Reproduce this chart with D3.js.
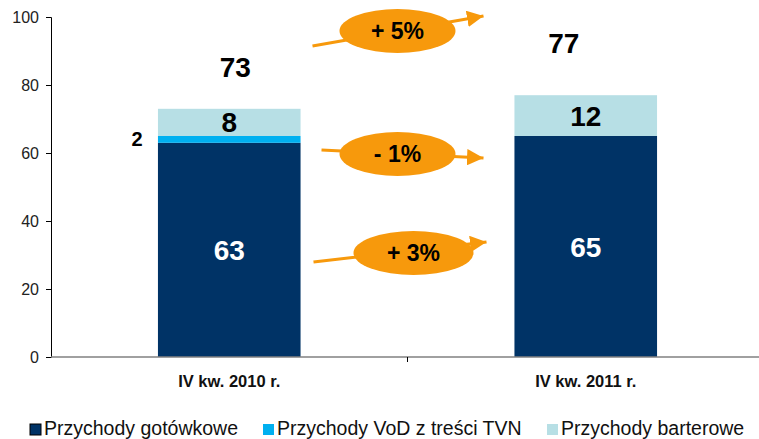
<!DOCTYPE html>
<html>
<head>
<meta charset="utf-8">
<script src="https://cdnjs.cloudflare.com/ajax/libs/d3/7.8.5/d3.min.js"></script>
<style>
  body { margin: 0; background: #fff; }
  svg { font-family: Arial, "Liberation Sans", sans-serif; }
</style>
</head>
<body>
<div id="root"></div>
<script>
// data
var categories = ['IV kw. 2010 r.', 'IV kw. 2011 r.'];
var seriesNames = ['Przychody gotówkowe', 'Przychody VoD z treści TVN', 'Przychody barterowe'];
var cashValues = [63, 65];
var vodValues = [2, 0];
var barterValues = [8, 12];
var totals = [73, 77];
var changeLabels = ['+ 5%', '- 1%', '+ 3%'];
var yTicks = [0, 20, 40, 60, 80, 100];

var colors = ['#003366', '#00B0F0', '#B7DFE5'];
var orange = '#F7990C';

var w = 759, h = 439;
var svg = d3.select('#root').append('svg')
  .attr('width', w)
  .attr('height', h);

var yScale = d3.scaleLinear().domain([0, 100]).range([357, 17]);
var xScale = d3.scaleBand().domain(categories).range([51, 764]).padding(0);
var barW = xScale.bandwidth() * 0.4;

// build stacked rows
var rows = categories.map(function(c, i) {
  return { cat: c, cash: cashValues[i], vod: vodValues[i], barter: barterValues[i], total: totals[i] };
});
var stack = d3.stack().keys(['cash', 'vod', 'barter'])(rows);

// bars
svg.selectAll('g.series')
  .data(stack).enter().append('g')
  .attr('class', 'series')
  .attr('fill', function(d, i) { return colors[i]; })
  .selectAll('rect')
  .data(function(d) { return d; }).enter().append('rect')
    .attr('x', function(d) { return xScale(d.data.cat) + (xScale.bandwidth() - barW) / 2; })
    .attr('y', function(d) { return yScale(d[1]); })
    .attr('width', barW)
    .attr('height', function(d) { return yScale(d[0]) - yScale(d[1]); });

// y axis
var yAxis = d3.axisLeft(yScale).tickValues(yTicks).tickSize(5).tickPadding(7);
var gy = svg.append('g').attr('transform', 'translate(51,0)').call(yAxis);
gy.select('.domain').attr('stroke', '#000');
gy.selectAll('.tick line').attr('stroke', '#000');
gy.selectAll('.tick text')
  .style('font-size', '16px')
  .attr('fill', '#222');

// x axis line + mid tick
svg.append('line')
  .attr('x1', 51).attr('x2', 764)
  .attr('y1', yScale(0)).attr('y2', yScale(0))
  .attr('stroke', '#808080').attr('stroke-width', 1.5);
svg.append('line')
  .attr('x1', xScale(categories[1])).attr('x2', xScale(categories[1]))
  .attr('y1', yScale(0)).attr('y2', yScale(0) + 5)
  .attr('stroke', '#000');

svg.selectAll('text.cat')
  .data(categories).enter().append('text')
  .attr('class', 'cat')
  .attr('x', function(d) { return xScale(d) + xScale.bandwidth() / 2; })
  .attr('y', 387)
  .attr('text-anchor', 'middle')
  .style('font-size', '16.5px')
  .style('font-weight', 'bold')
  .attr('fill', '#111')
  .text(function(d) { return d; });

// value labels
function cx(i) { return xScale(categories[i]) + xScale.bandwidth() / 2; }
var bold = function(sel, size, color) {
  sel.style('font-size', size + 'px').style('font-weight', 'bold')
     .attr('fill', color).attr('text-anchor', 'middle');
};

rows.forEach(function(r, i) {
  svg.append('text')
    .attr('x', cx(i)).attr('y', yScale(r.cash / 2) + 10)
    .call(bold, 28, '#fff').text(r.cash);
  var bMid = r.cash + r.vod + r.barter / 2;
  svg.append('text')
    .attr('x', cx(i)).attr('y', yScale(bMid) + 10)
    .call(bold, 28, '#000').text(r.barter);
});

// VoD label to the left of the first bar
svg.append('text')
  .attr('x', cx(0) - barW / 2 - 21).attr('y', yScale(cashValues[0] + vodValues[0] / 2) + 7)
  .call(bold, 20, '#000').text(vodValues[0]);

// totals (label offsets are layout only)
var totalDx = [6, -22], totalDy = [32, 42];
totals.forEach(function(t, i) {
  svg.append('text')
    .attr('x', cx(i) + totalDx[i]).attr('y', yScale(t) - totalDy[i])
    .call(bold, 28, '#000').text(t);
});

// growth arrows
var mid = xScale(categories[1]);
var arrows = [
  { x1: mid - 95, y1: 46, x2: mid + 78, y2: 16, ex: mid - 10, ey: 31, rx: 58 },
  { x1: mid - 86, y1: 150, x2: mid + 78, y2: 158, ex: mid - 10, ey: 154, rx: 58 },
  { x1: mid - 94, y1: 262, x2: mid + 81, y2: 242, ex: mid + 6, ey: 253, rx: 60 }
];
svg.append('defs').append('marker')
  .attr('id', 'arr')
  .attr('viewBox', '0 0 10 10')
  .attr('refX', 10).attr('refY', 5)
  .attr('markerWidth', 5.5).attr('markerHeight', 5.5)
  .attr('markerUnits', 'strokeWidth')
  .attr('orient', 'auto')
  .append('path').attr('d', 'M0,0L10,5L0,10z').attr('fill', orange);

arrows.forEach(function(a, i) {
  svg.append('line')
    .attr('x1', a.x1).attr('y1', a.y1).attr('x2', a.x2 - 2).attr('y2', a.y2)
    .attr('stroke', orange).attr('stroke-width', 3)
    .attr('marker-end', 'url(#arr)');
  svg.append('ellipse')
    .attr('cx', a.ex).attr('cy', a.ey)
    .attr('rx', a.rx).attr('ry', 22)
    .attr('fill', orange);
  svg.append('text')
    .attr('x', a.ex).attr('y', a.ey + 8)
    .call(bold, 23, '#000').text(changeLabels[i]);
});

// legend
var legX = [30, 263, 547];
var legend = svg.selectAll('g.leg')
  .data(seriesNames).enter().append('g')
  .attr('class', 'leg')
  .attr('transform', function(d, i) { return 'translate(' + legX[i] + ',424)'; });
legend.append('rect')
  .attr('width', 11).attr('height', 11)
  .attr('fill', function(d, i) { return colors[i]; })
  .attr('stroke', function(d, i) { return i === 0 ? '#000' : 'none'; });
legend.append('text')
  .attr('x', 14).attr('y', 11)
  .style('font-size', '19.5px')
  .attr('fill', '#111')
  .text(function(d) { return d; });
</script>
</body>
</html>
